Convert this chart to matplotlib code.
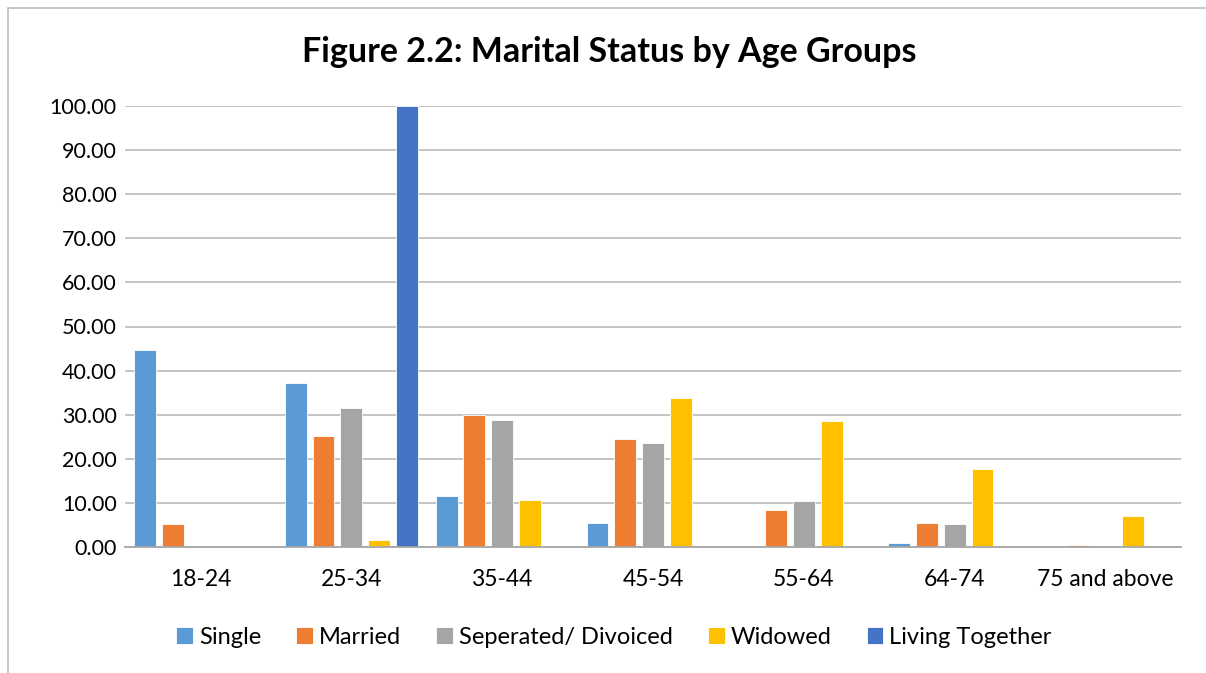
import numpy as np
import matplotlib.pyplot as plt
from matplotlib.patches import Rectangle

# Data
age_groups = ['18-24', '25-34', '35-44', '45-54', '55-64', '64-74', '75 and above']
single = [44.7, 37.2, 11.5, 5.4, 0.2, 0.9, 0.0]
married = [5.3, 25.2, 29.9, 24.6, 8.5, 5.4, 0.5]
separated = [0.0, 31.5, 28.9, 23.6, 10.4, 5.2, 0.0]
widowed = [0.0, 1.7, 10.6, 33.8, 28.6, 17.8, 7.1]
living_together = [0.0, 100.0, 0.0, 0.0, 0.0, 0.0, 0.0]

series_names = ['Single', 'Married', 'Seperated/ Divoiced', 'Widowed', 'Living Together']
series_colors = ['#5B9BD5', '#ED7D31', '#A5A5A5', '#FFC000', '#4472C4']
series_values = [single, married, separated, widowed, living_together]

plt.rcParams['font.family'] = ['Lato', 'DejaVu Sans']

fig = plt.figure(figsize=(12.06, 6.73), dpi=100)
ax = fig.add_axes([125 / 1206, 1 - 547 / 673, (1181 - 125) / 1206, (547 - 106) / 673])

# chart border (outer frame)
fig.patches.append(Rectangle((8 / 1206, -0.1), 1.2, 1 - 8 / 673 + 0.1,
                             transform=fig.transFigure, fill=False,
                             edgecolor='#bfbfbf', linewidth=1.2))

x = np.arange(len(age_groups))
step = 0.184
width = 0.145
for i, (name, vals, col) in enumerate(zip(series_names, series_values, series_colors)):
    ax.bar(x + (i - 2) * step, vals, width, color=col, label=name,
           edgecolor='white', linewidth=0.6, zorder=3)

ax.set_xlim(-0.5, len(age_groups) - 0.5)
ax.set_ylim(0, 100)
ax.set_yticks(np.arange(0, 101, 10))
ax.set_yticklabels([f'{v:.2f}' for v in np.arange(0, 101, 10)])
ax.set_xticks(x)
ax.set_xticklabels(age_groups)
ax.tick_params(axis='y', length=0, labelsize=15.5, colors='#000000', pad=6)
ax.tick_params(axis='x', length=0, labelsize=16.5, colors='#000000', pad=16)

ax.yaxis.grid(True, color='#bfbfbf', linewidth=1.3, zorder=0)
for side in ['top', 'right', 'left']:
    ax.spines[side].set_visible(False)
ax.spines['bottom'].set_color('#a6a6a6')
ax.spines['bottom'].set_linewidth(1.3)
ax.spines['bottom'].set_zorder(4)

fig.text(609 / 1206, 1 - 52 / 673, 'Figure 2.2: Marital Status by Age Groups',
         ha='center', va='center', fontsize=24.5, fontweight='bold')

ax.legend(loc='center', bbox_to_anchor=(614 / 1206, 1 - 637 / 673), bbox_transform=fig.transFigure,
          ncol=5, frameon=False, fontsize=17, handlelength=0.7, handleheight=0.7,
          handletextpad=0.25, columnspacing=1.5)

fig.savefig('out.png', dpi=100)
